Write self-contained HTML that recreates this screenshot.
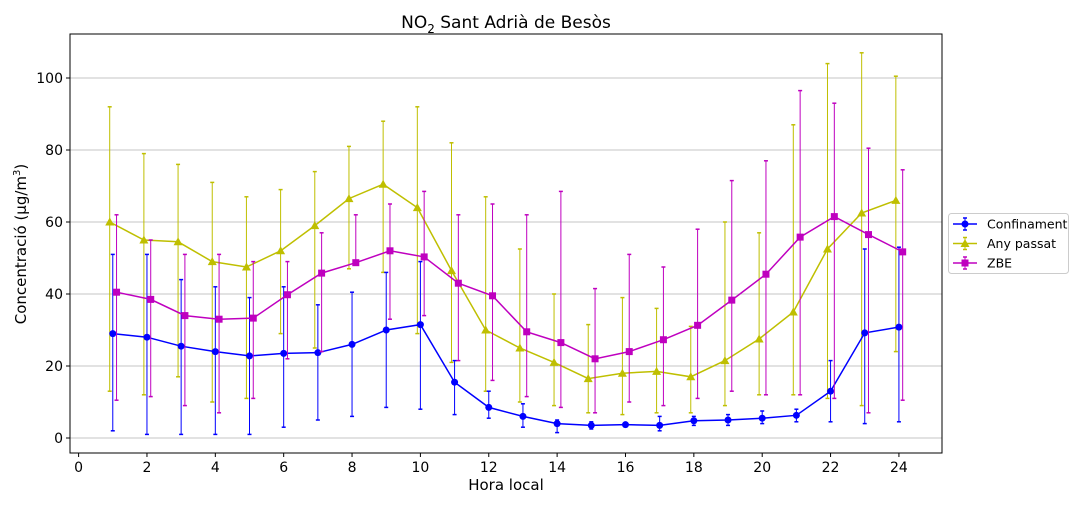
<!DOCTYPE html>
<html><head><meta charset="utf-8"><style>
body{margin:0;background:#fff;font-family:"DejaVu Sans","Liberation Sans",sans-serif;}
svg text{font-family:"DejaVu Sans","Liberation Sans",sans-serif;}
</style></head><body>
<svg id="chart" width="1080" height="504">
<g id="grid"></g><g id="series"></g><g id="axes"></g>
</svg>
<script>
const hours=[1,2,3,4,5,6,7,8,9,10,11,12,13,14,15,16,17,18,19,20,21,22,23,24];
const confVals=[29,28,25.5,24,22.8,23.5,23.7,26,30,31.5,15.5,8.5,6,4,3.5,3.7,3.5,4.8,5,5.5,6.3,13,29.2,30.8];
const confLow=[2,1,1,1,1,3,5,6,8.5,8,6.5,5.5,3,1.5,2.5,3.5,2,3.5,3.5,4,4.5,4.5,4,4.5];
const confHigh=[51,51,44,42,39,42,37,40.5,46,49,21.5,13,9.5,5,4.5,4,6,6,6.5,7.5,8,21.5,52.5,53];
const anyVals=[60,55,54.5,49,47.5,52,59,66.5,70.5,64,46.5,30,25,21,16.5,18,18.5,17,21.5,27.5,35,52.5,62.5,66];
const anyLow=[13,12,17,10,11,29,25,47,46,29,21,13,10,9,7,6.5,7,7,9,12,12,11,9,24];
const anyHigh=[92,79,76,71,67,69,74,81,88,92,82,67,52.5,40,31.5,39,36,31,60,57,87,104,107,100.5];
const zbeVals=[40.5,38.5,34,33,33.3,39.8,45.8,48.7,52,50.3,43,39.5,29.5,26.5,22,24,27.3,31.3,38.3,45.5,55.8,61.5,56.5,51.7];
const zbeLow=[10.5,11.5,9,7,11,22,24,48,33,34,21.5,16,11.5,8.5,7,10,9,11,13,12,12,11,7,10.5];
const zbeHigh=[62,55,51,51,49,49,57,62,65,68.5,62,65,62,68.5,41.5,51,47.5,58,71.5,77,96.5,93,80.5,74.5];
const xTicks=[0,2,4,6,8,10,12,14,16,18,20,22,24];
const yTicks=[0,20,40,60,80,100];

const L=70,R=942,T=34,B=453;
const X=v=>78.6+v*34.18, Y=v=>438-v*3.6;
const NS='http://www.w3.org/2000/svg';
function mk(tag,attrs,parent,txt){const e=document.createElementNS(NS,tag);for(const k in attrs)e.setAttribute(k,attrs[k]);if(txt!==undefined)e.textContent=txt;parent.appendChild(e);return e;}
const svg=document.getElementById('chart'),grid=document.getElementById('grid'),ser=document.getElementById('series'),axes=document.getElementById('axes');
yTicks.forEach(t=>{
 const l=mk('line',{x1:L,x2:R,y1:Y(t),y2:Y(t),stroke:'#b0b0b0','stroke-width':0.8},grid);
 
 
 mk('line',{x1:L-4,x2:L,y1:Y(t),y2:Y(t),stroke:'#000'},axes);
 const tx=mk('text',{x:L-7,y:Y(t)+5,'text-anchor':'end','font-size':14},axes,t);
 
 
});
xTicks.forEach(t=>{
 mk('line',{x1:X(t),x2:X(t),y1:B,y2:B+4,stroke:'#000'},axes);
 const tx=mk('text',{x:X(t),y:B+19,'text-anchor':'middle','font-size':14},axes,t);
 
 
});
mk('rect',{x:L,y:T,width:R-L,height:B-T,fill:'none',stroke:'#000','stroke-width':1},axes);
function marker(shape,x,y,c,g){
 if(shape==='circle')return mk('circle',{cx:x,cy:y,r:3.5,fill:c},g);
 if(shape==='tri')return mk('polygon',{points:`${x},${y-4.5} ${x-4.5},${y+3.5} ${x+4.5},${y+3.5}`,fill:c},g);
 return mk('rect',{x:x-3.5,y:y-3.5,width:7,height:7,fill:c},g);
}
function series(name,vals,lo,hi,off,c,shape){
 const g=mk('g',{},ser);
 
 
 hours.forEach((h,i)=>{
  const x=X(h+off);
  const e=mk('line',{x1:x,x2:x,y1:Y(lo[i]),y2:Y(hi[i]),stroke:c,'stroke-width':1},g);
  
  
  mk('line',{x1:x-2,x2:x+2,y1:Y(lo[i]),y2:Y(lo[i]),stroke:c,'stroke-width':1.5},g);
  mk('line',{x1:x-2,x2:x+2,y1:Y(hi[i]),y2:Y(hi[i]),stroke:c,'stroke-width':1.5},g);
 });
 const p=mk('polyline',{points:hours.map((h,i)=>X(h+off)+','+Y(vals[i])).join(' '),fill:'none',stroke:c,'stroke-width':1.5},g);
 
 
 hours.forEach((h,i)=>{
  const m=marker(shape,X(h+off),Y(vals[i]),c,g);
  
  
 });
}
series('any-passat',anyVals,anyLow,anyHigh,-0.09,'#bfbf00','tri');
series('confinament',confVals,confLow,confHigh,0,'#0000ff','circle');
series('zbe',zbeVals,zbeLow,zbeHigh,0.11,'#bf00bf','sq');

const t=mk('text',{x:506,y:28,'text-anchor':'middle','font-size':17},svg);

t.innerHTML='NO<tspan font-size="12" dy="5">2</tspan><tspan dy="-5"> Sant Adrià de Besòs</tspan>';
const xt=mk('text',{x:506,y:490,'text-anchor':'middle','font-size':15},svg,'Hora local');

const yt=mk('text',{x:0,y:0,'text-anchor':'middle','font-size':15,transform:'translate(26,244) rotate(-90)'},svg);

yt.innerHTML='Concentració (µg/m<tspan font-size="10" dy="-6">3</tspan><tspan dy="6">)</tspan>';

const lg=mk('g',{},svg);

mk('rect',{x:948.5,y:213.5,width:120,height:60,rx:3,fill:'#fff',stroke:'#ccc'},lg);
[['Confinament','#0000ff','circle'],['Any passat','#bfbf00','tri'],['ZBE','#bf00bf','sq']].forEach((d,i)=>{
 const y=224+i*19.5;
 const e=mk('g',{},lg);
 
 mk('line',{x1:953,x2:977,y1:y,y2:y,stroke:d[1],'stroke-width':1.5},e);
 mk('line',{x1:965,x2:965,y1:y-6,y2:y+6,stroke:d[1]},e);
 mk('line',{x1:963,x2:967,y1:y-6,y2:y-6,stroke:d[1],'stroke-width':1.5},e);
 mk('line',{x1:963,x2:967,y1:y+6,y2:y+6,stroke:d[1],'stroke-width':1.5},e);
 marker(d[2],965,y,d[1],e);
 mk('text',{x:987,y:y+4.5,'font-size':12.5},e,d[0]);
});
</script>
</body></html>
